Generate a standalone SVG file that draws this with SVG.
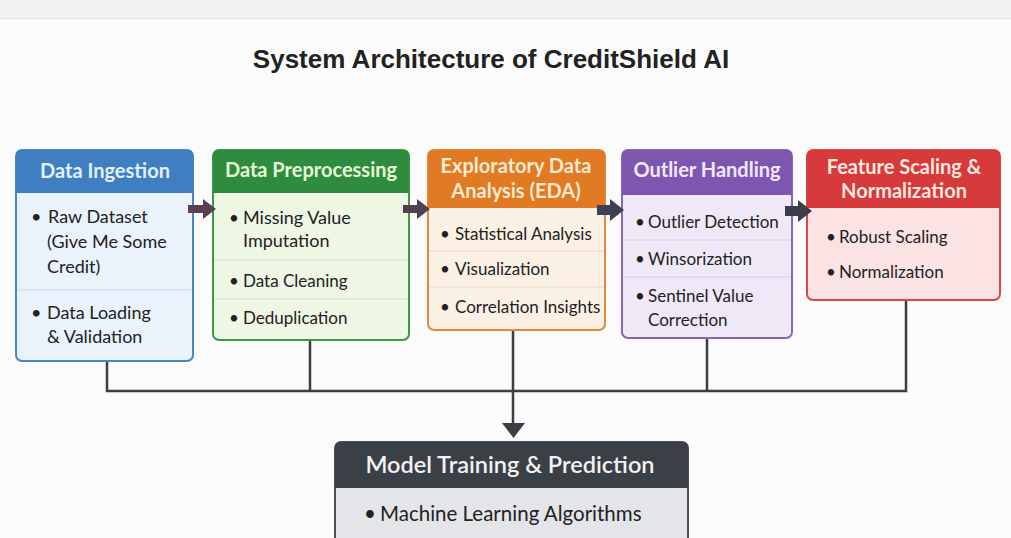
<svg xmlns="http://www.w3.org/2000/svg" width="1011" height="538" viewBox="0 0 1011 538">
<style>
.title{font-family:"Liberation Sans",Arial,sans-serif;font-weight:bold;font-size:26px;fill:#222}
.hd{font-family:Lato,"Open Sans",sans-serif;font-weight:bold;font-size:20px;text-anchor:middle}
.tx{font-family:Lato,"Open Sans",sans-serif;font-size:17px;fill:#222}
.tx1{font-family:Lato,"Open Sans",sans-serif;font-size:18px;fill:#222}
.div{stroke-width:1.2}
.conn{fill:none;stroke:#3a3f45;stroke-width:2.5}
</style>
<rect x="0" y="0" width="1011" height="538" fill="#fbfbfb"/>
<rect x="0" y="0" width="1011" height="18" fill="#f1f1f1"/>
<line x1="0" y1="18.5" x2="1011" y2="18.5" stroke="#e2e2e2" stroke-width="1"/>
<text class="title" x="491" y="68" text-anchor="middle">System Architecture of CreditShield AI</text>

<g id="node-ingestion">
<rect x="16" y="150" width="177" height="211" rx="6" fill="#eaf2fb" stroke="#4a86c5" stroke-width="2"/>
<path d="M16 193V156Q16 150 22 150H187Q193 150 193 156V193Z" fill="#3f7fc1"/>
<line class="div" x1="17" y1="290" x2="192" y2="290" stroke="#c9d8ea"/>
<text class="hd" x="105" y="178" fill="#e2f1ff">Data Ingestion</text>
<text class="tx1" x="31" y="223">•</text><text class="tx1" x="48" y="223">Raw Dataset</text>
<text class="tx1" x="47" y="248">(Give Me Some</text>
<text class="tx1" x="47" y="273">Credit)</text>
<text class="tx1" x="31" y="319">•</text><text class="tx1" x="47" y="319">Data Loading</text>
<text class="tx1" x="47" y="343">&amp; Validation</text>
</g>

<g id="node-preprocessing">
<rect x="213" y="150" width="196" height="190" rx="6" fill="#eef6e4" stroke="#3a9a48" stroke-width="2"/>
<path d="M213 193V156Q213 150 219 150H403Q409 150 409 156V193Z" fill="#2f8b3d"/>
<line class="div" x1="214" y1="260" x2="408" y2="260" stroke="#cfe0c4"/>
<line class="div" x1="214" y1="299" x2="408" y2="299" stroke="#cfe0c4"/>
<text class="hd" x="311" y="177" fill="#e6f8d8">Data Preprocessing</text>
<text class="tx" x="229" y="224">•</text><text class="tx" x="243" y="224" style="font-size:18px">Missing Value</text>
<text class="tx" x="243" y="247" style="font-size:18px">Imputation</text>
<text class="tx" x="229" y="287">•</text><text class="tx" x="243" y="287">Data Cleaning</text>
<text class="tx" x="229" y="324">•</text><text class="tx" x="243" y="324">Deduplication</text>
</g>

<g id="node-eda">
<rect x="428" y="150" width="177" height="180" rx="6" fill="#fbf0e4" stroke="#e4893a" stroke-width="2"/>
<path d="M428 208V156Q428 150 434 150H599Q605 150 605 156V208Z" fill="#e07b24"/>
<line class="div" x1="429" y1="251" x2="604" y2="251" stroke="#eed7c0"/>
<line class="div" x1="429" y1="287" x2="604" y2="287" stroke="#eed7c0"/>
<text class="hd" x="516" y="173" fill="#fde9d2">Exploratory Data</text>
<text class="hd" x="516" y="198" fill="#fde9d2">Analysis (EDA)</text>
<text class="tx" x="440" y="240">•</text><text class="tx" x="455" y="240">Statistical Analysis</text>
<text class="tx" x="440" y="275">•</text><text class="tx" x="455" y="275">Visualization</text>
<text class="tx" x="440" y="313">•</text><text class="tx" x="455" y="313">Correlation Insights</text>
</g>

<g id="node-outlier">
<rect x="622" y="150" width="170" height="188" rx="6" fill="#efe9f7" stroke="#8a66ba" stroke-width="2"/>
<path d="M622 195V156Q622 150 628 150H786Q792 150 792 156V195Z" fill="#7d56b0"/>
<line class="div" x1="623" y1="240" x2="791" y2="240" stroke="#d8cde8"/>
<line class="div" x1="623" y1="277" x2="791" y2="277" stroke="#d8cde8"/>
<text class="hd" x="707" y="177" fill="#f1e8ff">Outlier Handling</text>
<text class="tx" x="635" y="228">•</text><text class="tx" x="648" y="228">Outlier Detection</text>
<text class="tx" x="635" y="265">•</text><text class="tx" x="648" y="265">Winsorization</text>
<text class="tx" x="635" y="302">•</text><text class="tx" x="648" y="302">Sentinel Value</text>
<text class="tx" x="648" y="326">Correction</text>
</g>

<g id="node-scaling">
<rect x="807" y="150" width="193" height="150" rx="6" fill="#fbe3e3" stroke="#d84848" stroke-width="2"/>
<path d="M807 208V156Q807 150 813 150H994Q1000 150 1000 156V208Z" fill="#d63a3a"/>
<text class="hd" x="904" y="174" fill="#ffe8e0">Feature Scaling &amp;</text>
<text class="hd" x="904" y="198" fill="#ffe8e0">Normalization</text>
<text class="tx" x="826" y="243">•</text><text class="tx" x="839" y="243">Robust Scaling</text>
<text class="tx" x="826" y="278">•</text><text class="tx" x="839" y="278">Normalization</text>
</g>

<g id="node-model">
<rect x="335" y="442" width="353" height="110" rx="6" fill="#e3e5e8" stroke="#4a4f56" stroke-width="2"/>
<path d="M335 488V448Q335 442 341 442H682Q688 442 688 448V488Z" fill="#3b4047"/>
<text class="hd" x="510" y="473" fill="#f2f2f2" style="font-size:23.5px;font-weight:600">Model Training &amp; Prediction</text>
<text class="tx" x="364" y="521" style="font-size:20.5px">•</text><text class="tx" x="380" y="521" style="font-size:20.5px">Machine Learning Algorithms</text>
</g>

<g id="connectors">
<path class="conn" d="M107 362V391H906V301M310 341V391M707 339V391M513 331V425"/>
<path d="M502 423L525 423L513.5 438Z" fill="#3a3f45"/>
<path d="M188 205H203V199L216 209L203 219V213H188Z" fill="#5a3f4e"/>
<path d="M403 205H417V199L430 209L417 219V213H403Z" fill="#4f4150"/>
<path d="M597 205H610V199L624 210L610 221V215H597Z" fill="#3d4050"/>
<path d="M785 206H798V200L812 211L798 222V216H785Z" fill="#3a3d4a"/>
</g>
</svg>
